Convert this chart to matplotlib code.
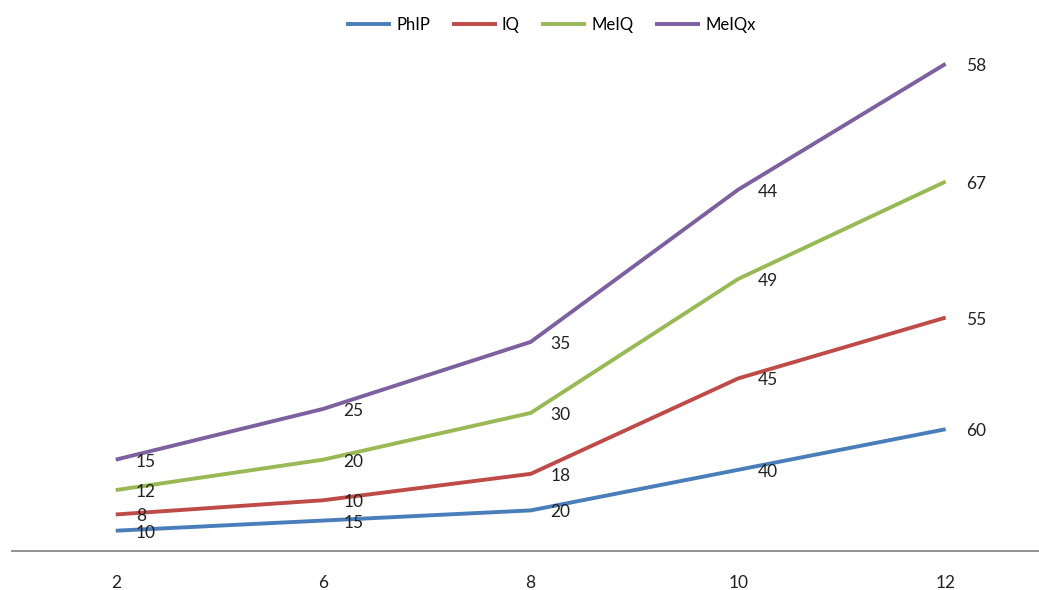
import numpy as np
import matplotlib
matplotlib.use("Agg")
import matplotlib.pyplot as plt

categories = ["2", "6", "8", "10", "12"]
series_names = ["PhIP", "IQ", "MeIQ", "MeIQx"]
phip = [10, 15, 20, 40, 60]
iq = [8, 10, 18, 45, 55]
meiq = [12, 20, 30, 49, 67]
meiqx = [15, 25, 35, 44, 58]
colors = ["#4A7EBB", "#BE4B48", "#98B954", "#7D60A0"]

plt.rcParams['font.family'] = ['Lato', 'DejaVu Sans']

W, H = 1039, 590
fig = plt.figure(figsize=(W / 100, H / 100), dpi=100)
ax = fig.add_axes([12 / W, 39 / H, (W - 12) / W, 507.5 / H])

x = np.arange(len(categories))
cum = np.zeros(len(categories))
for name, vals, c in zip(series_names, [phip, iq, meiq, meiqx], colors):
    cum = cum + np.array(vals)
    ax.plot(x, cum, color=c, lw=2.8, label=name, solid_capstyle='butt')
    for xi, yi, v in zip(x, cum, vals):
        ax.annotate(str(v), (xi, yi), xytext=(20, -2), textcoords='offset pixels',
                    ha='left', va='center', fontsize=12.5, color='#222222')

ax.set_xlim(-0.5, 4.45)
ax.set_ylim(0, 250)
ax.set_xticks(x)
ax.set_xticklabels(categories, fontsize=12.5, color='#222222')
ax.tick_params(axis='x', length=0, pad=17)
ax.set_yticks([])
for s in ['top', 'right', 'left']:
    ax.spines[s].set_visible(False)
ax.spines['bottom'].set_color('#888888')
ax.spines['bottom'].set_linewidth(1.3)

fig.legend(loc='center', bbox_to_anchor=(551 / W, 1 - 25 / H), ncol=4, frameon=False,
           fontsize=12, handlelength=2.7, handletextpad=0.3, columnspacing=1.3)

fig.savefig("out.png", dpi=100)
